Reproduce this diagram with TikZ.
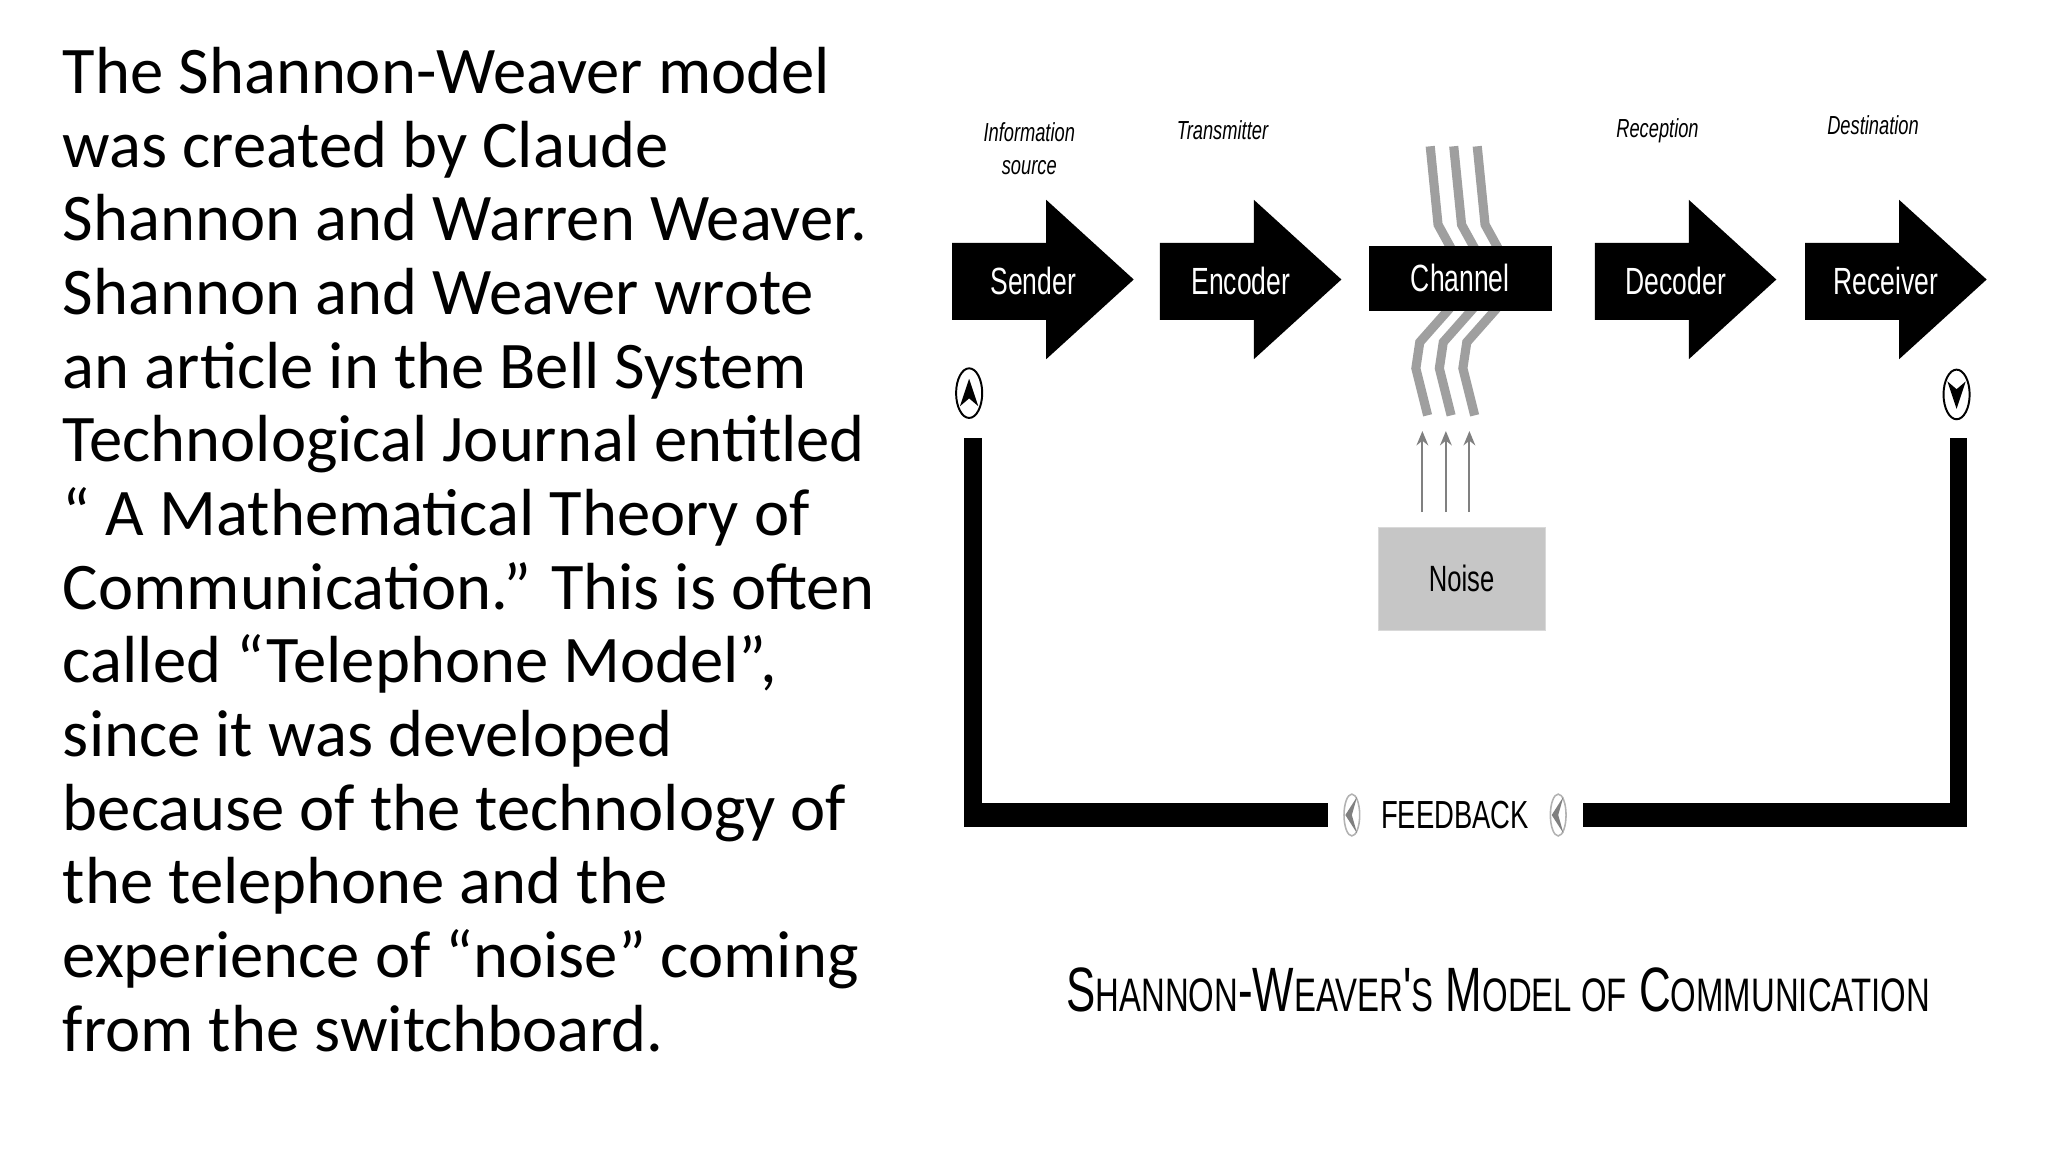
\documentclass[tikz,border=0pt]{standalone}
\usepackage{fontspec}
\setmainfont{Carlito}
\newfontfamily\narrow{Liberation Sans}[FakeStretch=0.7]
\usetikzlibrary{arrows.meta,shapes.geometric}
\begin{document}
\begin{tikzpicture}[x=1pt,y=-1pt,
  blk/.style={fill=black,draw=none},
  lab/.style={font=\narrow\fontsize{29}{29}\selectfont,text=white},
  top/.style={font=\narrow\itshape\fontsize{20}{25}\selectfont,align=center},
  bolt/.style={draw=gray!75,line width=7pt,line join=miter},
  narr/.style={draw=gray,line width=1.6pt,-{Stealth[length=11pt,width=9pt]}}]
\useasboundingbox (0,0) rectangle (1568,882);
\node[anchor=north west,align=left,inner sep=0,font=\fontsize{51}{56.4}\selectfont] (txt) at (48,36) {The Shannon-Weaver model\\was created by Claude\\Shannon and Warren Weaver.\\Shannon and Weaver wrote\\an article in the Bell System\\Technological Journal entitled\\“ A Mathematical Theory of\\Communication.” This is often\\called “Telephone Model”,\\since it was developed\\because of the technology of\\the telephone and the\\experience of “noise” coming\\from the switchboard.};
% bolts
\foreach \d in {0,18,36}{
  \draw[bolt] (1095+\d,112) -- (1101+\d,172) -- (1112+\d,192);
  \draw[bolt] (1110+\d,236) -- (1087+\d,262) -- (1084+\d,282) -- (1093+\d,318);
}
% arrows
\foreach \n/\x/\t in {snd/729/Sender,enc/888/Encoder,dec/1221/Decoder,rcv/1382/Receiver}{
  \fill[blk] (\x,186) -- (\x+72,186) -- (\x+72,153) -- (\x+139,214) -- (\x+72,275) -- (\x+72,245) -- (\x,245) -- cycle;
  \node[lab] (\n) at (\x+62,215) {\t};
}
\node[fill=black,minimum width=140pt,minimum height=50pt,inner sep=0,lab] (ch) at (1118,213) {Channel};
\node[top] (l1) at (788,114) {Information\\source};
\node[top] (l2) at (936,100) {Transmitter};
\node[top] (l3) at (1269,100) {Reception};
\node[top] (l4) at (1434,96) {Destination};
% noise
\node[fill=gray!45,draw=gray!30,minimum width=128pt,minimum height=79pt,inner sep=0,font=\narrow\fontsize{28}{28}\selectfont] (noise) at (1119,443) {Noise};
\foreach \x in {1089,1107,1125}{\draw[narr] (\x,392) -- (\x,330);}
% feedback loop
\fill[blk] (738,335) rectangle (752,633);
\fill[blk] (1493,335) rectangle (1506,633);
\fill[blk] (738,615) rectangle (1017,633);
\fill[blk] (1212,615) rectangle (1506,633);
\node[font=\narrow\fontsize{30}{30}\selectfont] (fb) at (1114,624) {FEEDBACK};
\foreach \n/\x in {c1/1035,c2/1193}{
  \node[ellipse,draw=gray!60,line width=1.2pt,minimum width=12pt,minimum height=32pt,inner sep=0] (\n) at (\x,624) {};
  \fill[gray] (\x+4,610) -- (\x-5,624) -- (\x+4,638) -- (\x,624) -- cycle;
}
\node[ellipse,draw=black,line width=1.5pt,minimum width=20pt,minimum height=38pt,inner sep=0] (up) at (742,301) {};
\fill (742,290) -- (749,311) -- (742,305) -- (735,311) -- cycle;
\node[ellipse,draw=black,line width=1.5pt,minimum width=20pt,minimum height=38pt,inner sep=0] (dn) at (1498,302) {};
\fill (1498,313) -- (1505,292) -- (1498,298) -- (1491,292) -- cycle;
% title
\node[font=\narrow\fontsize{48}{48}\selectfont] (title) at (1147,758) {S{\fontsize{36}{36}\selectfont HANNON}-W{\fontsize{36}{36}\selectfont EAVER}'{\fontsize{36}{36}\selectfont S} M{\fontsize{36}{36}\selectfont ODEL OF} C{\fontsize{36}{36}\selectfont OMMUNICATION}};
\end{tikzpicture}
\end{document}
